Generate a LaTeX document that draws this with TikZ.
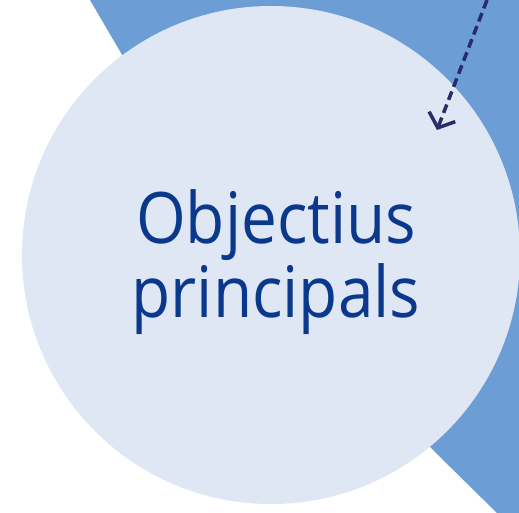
\documentclass[tikz,border=0pt]{standalone}
\usepackage{fontspec}
\setmainfont{Open Sans}
\usetikzlibrary{arrows.meta}
\definecolor{bandblue}{RGB}{108,157,212}
\definecolor{circfill}{RGB}{223,231,244}
\definecolor{textblue}{RGB}{10,56,140}
\definecolor{arrownavy}{RGB}{40,44,105}
\tikzset{
  band/.style={fill=bandblue,draw=none},
  bigcircle/.style={circle,fill=circfill,draw=none,minimum size=498pt,inner sep=0pt},
  titletext/.style={text=textblue,font=\fontsize{71}{74}\selectfont,inner sep=0pt,align=center,anchor=base},
  dasharrow/.style={draw=arrownavy,line width=3.5pt,dash pattern=on 9pt off 5pt,
    -{Straight Barb[length=12pt,width=28pt,line width=3.5pt]}}
}
\begin{document}
\begin{tikzpicture}[x=1pt,y=-1pt]
\useasboundingbox (0,0) rectangle (519,513);
\fill[white] (0,0) rectangle (519,513);
\path[band] (90,0) -- (207,200) -- (300,317) -- (435,452) -- (497,513) -- (519,513) -- (519,0) -- cycle;
\node[bigcircle] (goal) at (271,255) {};
\node[titletext] (title) at (276,317) {\scalebox{0.9}[1]{Objectius}\\\scalebox{0.9}[1]{principals}};
\coordinate (arrstart) at (487,0);
\coordinate (arrtip) at (437,130);
\draw[dasharrow] (arrstart) -- (arrtip);
\end{tikzpicture}
\end{document}
